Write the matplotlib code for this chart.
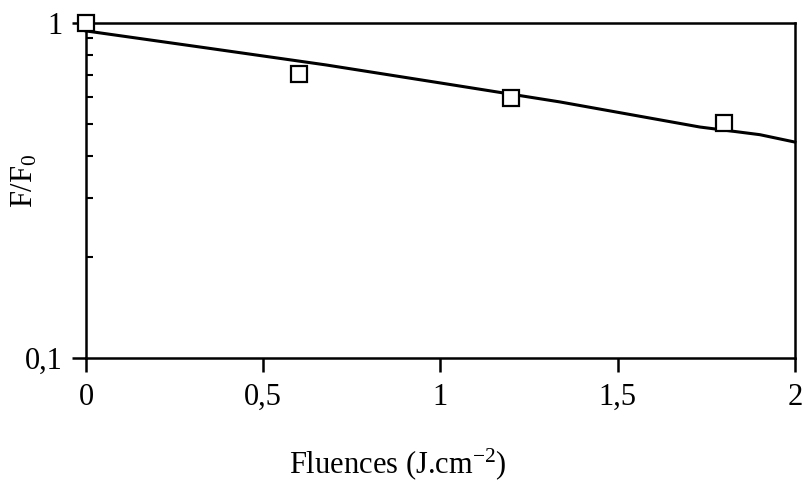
import matplotlib
matplotlib.use("Agg")
import matplotlib.pyplot as plt
from matplotlib.ticker import FixedLocator, NullLocator, FixedFormatter

# measured points (open squares)
fluence_pts = [0.0, 0.6, 1.2, 1.8]
ratio_pts = [1.0, 0.705, 0.595, 0.503]

# fitted curve
fluence_fit = [0.0, 0.339, 0.677, 0.999, 1.337, 1.732, 1.901, 2.0]
ratio_fit = [0.946, 0.842, 0.749, 0.662, 0.581, 0.489, 0.464, 0.441]

xticks = [0, 0.5, 1, 1.5, 2]
xtick_labels = ["0", "0,5", "1", "1,5", "2"]
yticks = [0.1, 1]
ytick_labels = ["0,1", "1"]
yminor = [0.2, 0.3, 0.4, 0.5, 0.6, 0.7, 0.8, 0.9]

plt.rcParams.update({
    "font.family": "Liberation Serif",
    "mathtext.fontset": "custom",
    "mathtext.rm": "Liberation Serif",
    "mathtext.it": "Liberation Serif",
    "font.size": 22,
})

fig = plt.figure(figsize=(8.07, 4.86), dpi=100)
ax = fig.add_axes([0.1066, 0.263, 0.8784, 0.690])

ax.plot(fluence_fit, ratio_fit, color="black", lw=2.2, clip_on=False)
ax.plot(fluence_pts, ratio_pts, ls="none", marker="s", markersize=12,
        markerfacecolor="white", markeredgecolor="black", markeredgewidth=1.6,
        clip_on=False, zorder=5)

ax.set_yscale("log")
ax.set_xlim(0, 2)
ax.set_ylim(0.1, 1)

ax.xaxis.set_major_locator(FixedLocator(xticks))
ax.xaxis.set_major_formatter(FixedFormatter(xtick_labels))
ax.xaxis.set_minor_locator(NullLocator())
ax.yaxis.set_major_locator(FixedLocator(yticks))
ax.yaxis.set_major_formatter(FixedFormatter(ytick_labels))
ax.yaxis.set_minor_locator(FixedLocator(yminor))
ax.yaxis.set_minor_formatter(FixedFormatter([""] * len(yminor)))

for s in ax.spines.values():
    s.set_linewidth(1.8)

ax.tick_params(axis="x", which="major", direction="out", length=10, width=1.8, pad=8)
ax.tick_params(axis="y", which="major", direction="out", length=10, width=1.8, pad=7)
ax.tick_params(axis="y", which="minor", direction="in", length=5, width=1.5)

ax.set_xlabel("Fluences (J.cm$^{-2}$)", fontsize=22)
ax.xaxis.set_label_coords(0.44, -0.315)
ax.xaxis.label.set_va("center")
ax.set_ylabel("F/F$_0$", fontsize=22)
ax.yaxis.set_label_coords(-0.087, 0.53)
ax.yaxis.label.set_va("center")

fig.savefig("out.png", dpi=100)
